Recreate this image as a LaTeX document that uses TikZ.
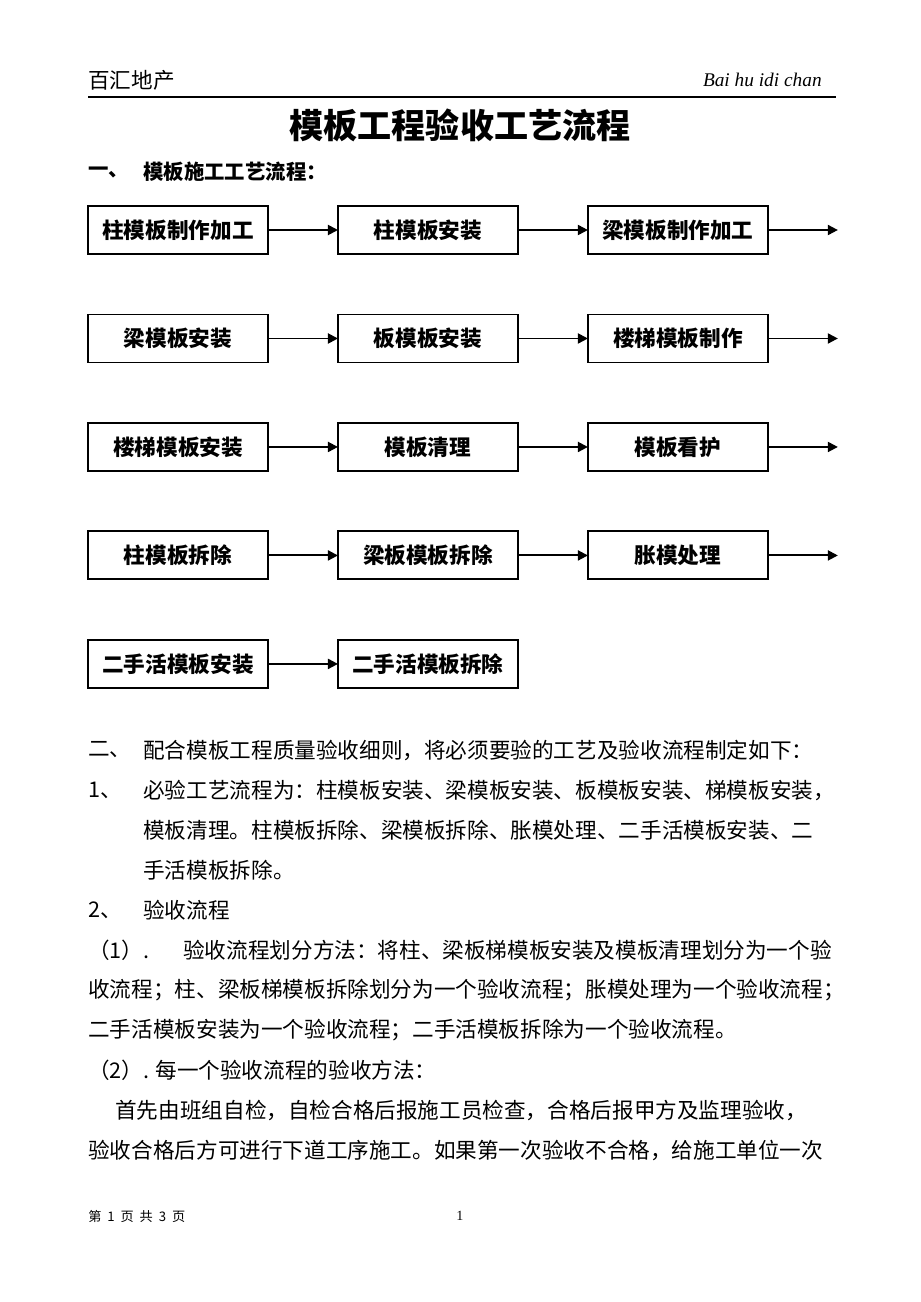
\documentclass[tikz,border=0pt]{standalone}
\usepackage{fontspec}
\setmainfont{Noto Sans CJK SC}
\newfontfamily\romanfont{Liberation Serif}
\usetikzlibrary{arrows.meta, positioning}

\newcommand{\bodysize}{\fontsize{12.3pt}{14pt}\selectfont}

\begin{document}
\begin{tikzpicture}[x=0.02cm, y=-0.02cm,
        node distance=1.21cm and 1.4cm,
        stage/.style={
            rectangle, draw=black, line width=1.1pt, inner sep=0pt, outer sep=0pt,
            minimum width=3.6cm, minimum height=0.96cm, font=\bodysize\bfseries
        },
        arrow/.style={-{Triangle[length=2mm, width=2mm]}, line width=1.1pt},
        line/.style={anchor=west, inner sep=0pt, font=\bodysize}
    ]
        \useasboundingbox (0,0) rectangle (920,1302);

        % Page header
        \node[line] (company) at (88,80) {百汇地产};
        \node[anchor=east, inner sep=0pt, font=\romanfont\itshape\fontsize{11pt}{13pt}\selectfont] (pinyin) at (822,80) {Bai hu idi chan};
        \draw[line width=0.8pt] (88,97) -- (836,97);

        % Title and heading
        \node[font=\fontsize{19.4pt}{22pt}\selectfont\bfseries] (title) at (460,125) {模板工程验收工艺流程};
        \node[line, font=\fontsize{11.6pt}{14pt}\selectfont\bfseries] (secOne) at (88,172) {一、};
        \node[line, font=\fontsize{11.6pt}{14pt}\selectfont\bfseries] (secOneText) at (143,172) {模板施工工艺流程：};

        % Row 1
        \node[stage] (colMake) at (178,230) {柱模板制作加工};
        \node[stage, right=of colMake] (colFix) {柱模板安装};
        \node[stage, right=of colFix] (beamMake) {梁模板制作加工};
        \coordinate[right=of beamMake] (endA);

        % Row 2
        \node[stage, below=of colMake] (beamFix) {梁模板安装};
        \node[stage, right=of beamFix] (slabFix) {板模板安装};
        \node[stage, right=of slabFix] (stairMake) {楼梯模板制作};
        \coordinate[right=of stairMake] (endB);

        % Row 3
        \node[stage, below=of beamFix] (stairFix) {楼梯模板安装};
        \node[stage, right=of stairFix] (formClean) {模板清理};
        \node[stage, right=of formClean] (formGuard) {模板看护};
        \coordinate[right=of formGuard] (endC);

        % Row 4
        \node[stage, below=of stairFix] (colStrip) {柱模板拆除};
        \node[stage, right=of colStrip] (beamStrip) {梁板模板拆除};
        \node[stage, right=of beamStrip] (bulgeFix) {胀模处理};
        \coordinate[right=of bulgeFix] (endD);

        % Row 5
        \node[stage, below=of colStrip] (reuseFix) {二手活模板安装};
        \node[stage, right=of reuseFix] (reuseStrip) {二手活模板拆除};

        % Flow arrows
        \draw[arrow] (colMake) -- (colFix);
        \draw[arrow] (colFix) -- (beamMake);
        \draw[arrow] (beamMake) -- (endA);
        \draw[arrow] (beamFix) -- (slabFix);
        \draw[arrow] (slabFix) -- (stairMake);
        \draw[arrow] (stairMake) -- (endB);
        \draw[arrow] (stairFix) -- (formClean);
        \draw[arrow] (formClean) -- (formGuard);
        \draw[arrow] (formGuard) -- (endC);
        \draw[arrow] (colStrip) -- (beamStrip);
        \draw[arrow] (beamStrip) -- (bulgeFix);
        \draw[arrow] (bulgeFix) -- (endD);
        \draw[arrow] (reuseFix) -- (reuseStrip);

        % Body text
        \node[line] (secTwo) at (88,750) {二、};
        \node[line] (secTwoText) at (143,750) {配合模板工程质量验收细则，将必须要验的工艺及验收流程制定如下：};
        \node[line] (itemOne) at (88,790) {1、};
        \node[line] (itemOneA) at (143,790) {必验工艺流程为：柱模板安装、梁模板安装、板模板安装、梯模板安装，};
        \node[line] (itemOneB) at (143,830) {模板清理。柱模板拆除、梁模板拆除、胀模处理、二手活模板安装、二};
        \node[line] (itemOneC) at (143,870) {手活模板拆除。};
        \node[line] (itemTwo) at (88,910) {2、};
        \node[line] (itemTwoText) at (143,910) {验收流程};
        \node[line] (subOne) at (88,950) {（1）.};
        \node[line] (subOneA) at (183,950) {验收流程划分方法：将柱、梁板梯模板安装及模板清理划分为一个验};
        \node[line] (subOneB) at (88,990) {收流程；柱、梁板梯模板拆除划分为一个验收流程；胀模处理为一个验收流程；};
        \node[line] (subOneC) at (88,1030) {二手活模板安装为一个验收流程；二手活模板拆除为一个验收流程。};
        \node[line] (subTwo) at (88,1070) {（2）.};
        \node[line, right=3pt of subTwo] (subTwoText) {每一个验收流程的验收方法：};
        \node[line] (checkA) at (115,1110) {首先由班组自检，自检合格后报施工员检查，合格后报甲方及监理验收，};
        \node[line] (checkB) at (88,1150) {验收合格后方可进行下道工序施工。如果第一次验收不合格，给施工单位一次};

        % Page footer
        \node[line, font=\fontsize{7.5pt}{9pt}\selectfont] (pageOf) at (88,1216) {第~~1~~页~~共~~3~~页};
        \node[inner sep=0pt, font=\romanfont\fontsize{8pt}{9pt}\selectfont] (pageNo) at (460,1216) {1};

    \end{tikzpicture}
\end{document}
